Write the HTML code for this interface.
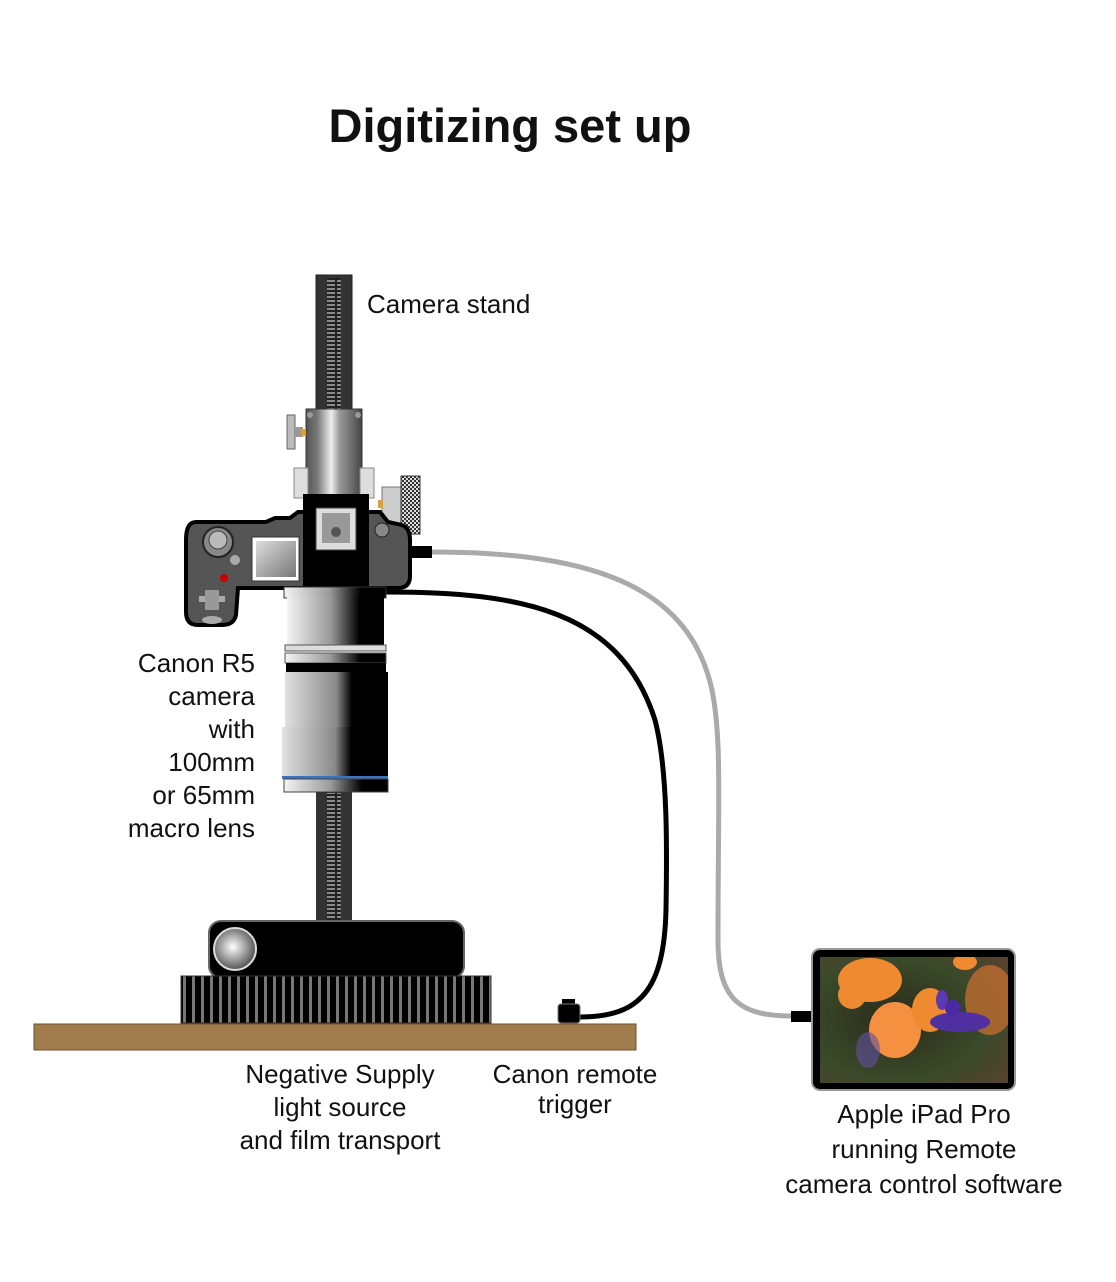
<!DOCTYPE html>
<html><head><meta charset="utf-8"><style>
html,body{margin:0;padding:0;background:#fff;}
svg{display:block;}
text{font-family:"Liberation Sans",sans-serif;fill:#111;}
</style></head><body>
<svg width="1116" height="1282" viewBox="0 0 1116 1282" xmlns="http://www.w3.org/2000/svg">
<defs>
<linearGradient id="lensg" x1="0" x2="1"><stop offset="0" stop-color="#f4f4f4"/><stop offset="0.45" stop-color="#9a9a9a"/><stop offset="0.75" stop-color="#000"/><stop offset="1" stop-color="#000"/></linearGradient>
<linearGradient id="lensg2" x1="0" x2="1"><stop offset="0" stop-color="#e0e0e0"/><stop offset="0.5" stop-color="#8a8a8a"/><stop offset="0.65" stop-color="#000"/><stop offset="1" stop-color="#000"/></linearGradient>
<linearGradient id="scr" x1="0" x2="1" y1="0" y2="1"><stop offset="0" stop-color="#ddd"/><stop offset="1" stop-color="#777"/></linearGradient>
<radialGradient id="ball" cx="0.45" cy="0.45" r="0.6"><stop offset="0" stop-color="#fff"/><stop offset="1" stop-color="#444"/></radialGradient>
<linearGradient id="slide" x1="0" x2="1"><stop offset="0" stop-color="#555"/><stop offset="0.2" stop-color="#777"/><stop offset="0.45" stop-color="#eee"/><stop offset="0.6" stop-color="#999"/><stop offset="0.85" stop-color="#666"/><stop offset="1" stop-color="#444"/></linearGradient>
<pattern id="rack" width="14" height="4" patternUnits="userSpaceOnUse"><rect width="14" height="4" fill="#222"/><rect x="1" y="0" width="12" height="2" fill="#8a8a8a"/></pattern>
<pattern id="ribs" width="9" height="40" patternUnits="userSpaceOnUse"><rect width="9" height="40" fill="#000"/><rect x="3" y="0" width="3" height="40" fill="#777"/></pattern>
<pattern id="chk" width="4" height="4" patternUnits="userSpaceOnUse"><rect width="4" height="4" fill="#333"/><rect width="2" height="2" fill="#ddd"/><rect x="2" y="2" width="2" height="2" fill="#ddd"/></pattern>
<radialGradient id="bg" cx="0.4" cy="0.5" r="0.8"><stop offset="0" stop-color="#2a2a18"/><stop offset="0.6" stop-color="#3a4a2a"/><stop offset="1" stop-color="#5a4030"/></radialGradient>
<clipPath id="ipc"><rect x="820" y="957" width="188" height="126"/></clipPath>
</defs>

<text x="510" y="142" font-size="47" font-weight="bold" text-anchor="middle">Digitizing set up</text>

<path d="M432,552 C600,552 690,590 712,690 C722,740 718,800 718,940 C718,1000 740,1016 792,1016" fill="none" stroke="#aaa" stroke-width="5"/>
<path d="M386,592 C520,592 620,610 655,720 C668,770 667,850 666,910 C664,990 640,1017 580,1017" fill="none" stroke="#000" stroke-width="5"/>

<rect x="316" y="275" width="36" height="136" fill="#333" stroke="#222"/>
<rect x="327" y="278" width="14" height="132" fill="url(#rack)"/>
<rect x="306" y="409" width="56" height="90" fill="url(#slide)" stroke="#333"/>
<circle cx="310" cy="415" r="3" fill="#999"/><circle cx="358" cy="415" r="3" fill="#999"/>
<rect x="287" y="415" width="8" height="34" fill="#bbb" stroke="#666"/>
<rect x="295" y="427" width="8" height="10" fill="#999"/><rect x="301" y="429" width="5" height="7" fill="#e0a030"/>
<rect x="294" y="468" width="14" height="30" fill="#ddd" stroke="#888"/>
<rect x="360" y="468" width="14" height="30" fill="#ddd" stroke="#888"/>
<rect x="382" y="487" width="20" height="38" fill="#ccc" stroke="#777"/>
<rect x="401" y="476" width="19" height="58" fill="url(#chk)" stroke="#333"/>
<rect x="378" y="500" width="5" height="8" fill="#e0a030"/>
<path d="M196,522 L266,522 L275,518 L290,518 L298,512 L380,512 L388,522 L402,525 Q410,528 410,540 L410,576 Q410,588 398,588 L238,588 L236,615 Q234,625 222,625 L198,625 Q186,625 186,612 L186,540 Q186,522 196,522 Z" fill="#555" stroke="#000" stroke-width="4"/>
<rect x="303" y="494" width="66" height="96" fill="#000"/>
<rect x="316" y="508" width="40" height="42" fill="#ddd" stroke="#444"/>
<rect x="322" y="513" width="28" height="30" fill="#999"/>
<circle cx="336" cy="532" r="5" fill="#555"/>
<rect x="252" y="537" width="47" height="44" fill="#fff" stroke="#333"/>
<rect x="256" y="541" width="40" height="36" fill="url(#scr)"/>
<circle cx="218" cy="542" r="15" fill="#888" stroke="#222" stroke-width="2"/>
<circle cx="218" cy="540" r="9" fill="#bbb" stroke="#444"/>
<circle cx="235" cy="560" r="5" fill="#aaa"/>
<circle cx="224" cy="578" r="4" fill="#c00"/>
<rect x="199" y="596" width="26" height="6" fill="#aaa"/>
<rect x="205" y="590" width="14" height="20" fill="#999"/>
<ellipse cx="212" cy="620" rx="10" ry="4" fill="#aaa"/>
<circle cx="382" cy="530" r="7" fill="#888" stroke="#222"/>
<rect x="410" y="546" width="22" height="12" fill="#000"/>
<rect x="284" y="587" width="102" height="11" fill="url(#lensg)" stroke="#333"/>
<rect x="287" y="597" width="97" height="48" fill="url(#lensg)"/>
<rect x="285" y="645" width="101" height="6" fill="#ddd" stroke="#555"/>
<rect x="285" y="653" width="101" height="10" fill="url(#lensg)" stroke="#555"/>
<rect x="286" y="663" width="100" height="9" fill="#000"/>
<rect x="285" y="672" width="103" height="35" fill="url(#lensg2)"/>
<rect x="282" y="727" width="106" height="50" fill="url(#lensg2)"/>
<rect x="285" y="707" width="103" height="20" fill="url(#lensg2)"/>
<rect x="282" y="776" width="106" height="3" fill="#4070c0"/>
<rect x="284" y="779" width="104" height="13" fill="url(#lensg)" stroke="#444"/>
<rect x="316" y="792" width="36" height="130" fill="#333"/>
<rect x="327" y="793" width="14" height="127" fill="url(#rack)"/>
<rect x="209" y="921" width="255" height="57" rx="12" fill="#000" stroke="#666" stroke-width="2"/>
<circle cx="235" cy="949" r="21" fill="url(#ball)" stroke="#ddd" stroke-width="2"/>
<rect x="181" y="976" width="310" height="47" fill="url(#ribs)" stroke="#333"/>
<rect x="34" y="1024" width="602" height="26" fill="#a07c4c" stroke="#6a5030"/>
<rect x="562" y="999" width="13" height="6" fill="#000"/>
<rect x="558" y="1004" width="22" height="19" rx="3" fill="#000" stroke="#777"/>
<rect x="791" y="1011" width="21" height="11" fill="#000"/>
<rect x="812" y="949" width="203" height="141" rx="8" fill="#000" stroke="#999" stroke-width="2"/>
<g clip-path="url(#ipc)">
<rect x="820" y="957" width="188" height="126" fill="url(#bg)"/>
<ellipse cx="990" cy="1000" rx="25" ry="35" fill="#d07030" opacity="0.7"/>
<ellipse cx="870" cy="980" rx="32" ry="22" fill="#f08a30"/>
<ellipse cx="852" cy="995" rx="14" ry="14" fill="#f08a30"/>
<ellipse cx="895" cy="1030" rx="26" ry="28" fill="#f59040"/>
<ellipse cx="930" cy="1010" rx="18" ry="22" fill="#f08a30"/>
<ellipse cx="965" cy="962" rx="12" ry="8" fill="#f08a30"/>
<ellipse cx="960" cy="1022" rx="30" ry="10" fill="#5030a0"/>
<ellipse cx="942" cy="1000" rx="6" ry="10" fill="#5a3ab0"/>
<ellipse cx="953" cy="1008" rx="8" ry="8" fill="#4a2aa0"/>
<ellipse cx="868" cy="1050" rx="12" ry="18" fill="#6050a0" opacity="0.6"/>
</g>

<text x="367" y="313" font-size="26">Camera stand</text>
<g font-size="26" text-anchor="end">
<text x="255" y="672">Canon R5</text>
<text x="255" y="705">camera</text>
<text x="255" y="738">with</text>
<text x="255" y="771">100mm</text>
<text x="255" y="804">or 65mm</text>
<text x="255" y="837">macro lens</text>
</g>
<g font-size="26" text-anchor="middle">
<text x="340" y="1083">Negative Supply</text>
<text x="340" y="1116">light source</text>
<text x="340" y="1149">and film transport</text>
<text x="575" y="1083">Canon remote</text>
<text x="575" y="1113">trigger</text>
<text x="924" y="1123">Apple iPad Pro</text>
<text x="924" y="1158">running Remote</text>
<text x="924" y="1193">camera control software</text>
</g>
</svg>
</body></html>
